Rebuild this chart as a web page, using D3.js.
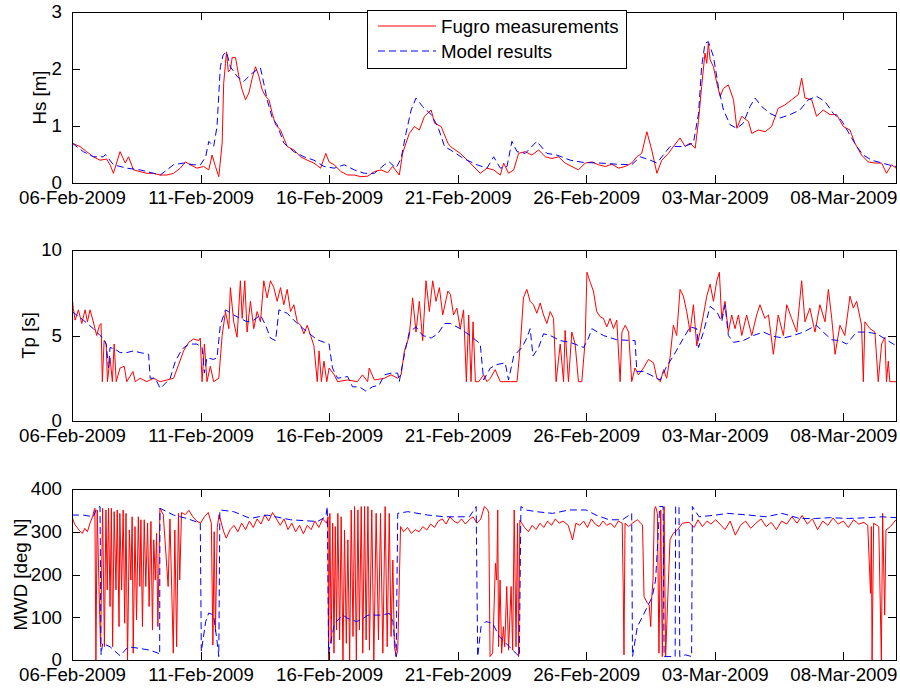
<!DOCTYPE html>
<html>
<head>
<meta charset="utf-8">
<script src="https://cdn.jsdelivr.net/npm/d3@7"></script>
<style>
  body { margin: 0; background: #fff; }
  svg text { font-family: "Liberation Sans", Arial, sans-serif; font-size: 18.7px; fill: #000; }
</style>
</head>
<body>
<svg width="900" height="691"></svg>
<script>
// time axis: day offsets from 06-Feb-2009 00:00
const startDate = '2009-02-06'
const endDay = 32.05
const xTickLabels = ['06-Feb-2009', '11-Feb-2009', '16-Feb-2009', '21-Feb-2009', '26-Feb-2009', '03-Mar-2009', '08-Mar-2009']
const seriesNames = ['Fugro measurements', 'Model results']

const hsTicks = [0, 1, 2, 3]
const tpTicks = [0, 5, 10]
const mwdTicks = [0, 100, 200, 300, 400]

// [day, Hs m]
const hsMeasured = [[0,0.70],[0.31,0.64],[0.57,0.55],[0.83,0.46],[1.09,0.40],[1.35,0.42],[1.5,0.30],[1.61,0.17],[1.87,0.55],[2.07,0.35],[2.2,0.46],[2.39,0.23],[2.65,0.20],[2.91,0.17],[3.17,0.17],[3.43,0.14],[3.69,0.14],[3.95,0.17],[4.21,0.26],[4.41,0.37],[4.6,0.32],[4.86,0.26],[5.12,0.29],[5.32,0.23],[5.45,0.49],[5.58,0.29],[5.71,0.11],[5.84,0.70],[5.9,1.75],[5.97,2.1],[6.01,2.3],[6.08,1.95],[6.16,1.99],[6.23,2.2],[6.36,2.2],[6.49,1.87],[6.62,1.63],[6.75,1.46],[6.88,1.58],[7.01,1.84],[7.14,2.04],[7.27,1.87],[7.4,1.63],[7.53,1.52],[7.66,1.46],[7.79,1.22],[7.92,1.02],[8.11,0.93],[8.37,0.64],[8.63,0.58],[8.89,0.46],[9.15,0.40],[9.41,0.35],[9.67,0.26],[9.87,0.52],[10.0,0.37],[10.2,0.32],[10.46,0.20],[10.72,0.14],[10.98,0.14],[11.24,0.11],[11.5,0.12],[11.76,0.20],[12.02,0.23],[12.28,0.18],[12.47,0.29],[12.73,0.14],[12.86,0.52],[12.99,0.70],[13.12,0.87],[13.32,0.99],[13.51,0.93],[13.71,1.17],[13.97,1.28],[14.1,1.05],[14.36,0.99],[14.62,0.70],[14.72,0.64],[15.1,0.52],[15.49,0.35],[15.88,0.17],[16.14,0.26],[16.4,0.23],[16.66,0.14],[16.79,0.35],[16.98,0.17],[17.18,0.23],[17.37,0.52],[17.63,0.55],[17.89,0.49],[18.15,0.58],[18.41,0.46],[18.67,0.43],[18.92,0.46],[19.18,0.35],[19.44,0.29],[19.7,0.23],[19.96,0.35],[20.22,0.37],[20.48,0.32],[20.74,0.29],[21.0,0.33],[21.26,0.26],[21.52,0.29],[21.77,0.35],[21.97,0.46],[22.16,0.52],[22.36,0.90],[22.55,0.58],[22.75,0.17],[22.94,0.40],[23.2,0.52],[23.39,0.64],[23.65,0.79],[23.85,0.64],[24.04,0.70],[24.24,0.61],[24.37,1.10],[24.49,1.69],[24.62,2.28],[24.69,2.1],[24.75,2.45],[24.82,2.16],[24.95,2.04],[25.08,1.75],[25.21,1.52],[25.34,1.66],[25.53,1.72],[25.73,1.46],[25.86,0.96],[26.05,1.17],[26.31,1.08],[26.44,0.87],[26.7,0.93],[26.96,0.90],[27.21,0.99],[27.47,1.31],[27.73,1.37],[27.99,1.46],[28.25,1.55],[28.38,1.84],[28.51,1.49],[28.77,1.46],[28.96,1.17],[29.22,1.28],[29.48,1.2],[29.74,1.2],[30.0,0.99],[30.26,0.93],[30.45,0.70],[30.71,0.49],[30.97,0.37],[31.23,0.35],[31.49,0.35],[31.68,0.17],[31.88,0.32],[32.05,0.26]]

const hsModel = [[0,0.70],[0.44,0.55],[0.83,0.46],[1.22,0.46],[1.3,0.50],[1.61,0.32],[2.13,0.26],[2.65,0.23],[3.17,0.17],[3.43,0.14],[3.69,0.23],[3.95,0.32],[4.34,0.35],[4.73,0.32],[5.0,0.32],[5.2,0.46],[5.32,0.73],[5.51,0.64],[5.64,0.99],[5.77,2.04],[5.88,2.25],[6.01,2.3],[6.16,2.04],[6.42,1.87],[6.68,1.78],[6.94,1.9],[7.2,1.99],[7.33,2.02],[7.46,1.75],[7.59,1.46],[7.79,1.14],[7.98,1.02],[8.24,0.70],[8.63,0.55],[9.02,0.46],[9.41,0.40],[9.8,0.29],[10.2,0.26],[10.59,0.32],[10.98,0.23],[11.37,0.17],[11.76,0.17],[12.15,0.32],[12.34,0.37],[12.6,0.26],[12.8,0.43],[12.99,0.87],[13.19,1.28],[13.38,1.49],[13.64,1.34],[13.97,1.2],[14.23,0.99],[14.49,0.64],[14.72,0.58],[15.23,0.43],[15.75,0.32],[16.14,0.26],[16.4,0.46],[16.66,0.26],[16.92,0.29],[17.11,0.73],[17.31,0.55],[17.63,0.52],[18.08,0.73],[18.47,0.52],[18.86,0.49],[19.38,0.40],[19.9,0.36],[20.54,0.35],[21.19,0.33],[21.77,0.32],[22.1,0.46],[22.49,0.40],[22.75,0.35],[23.26,0.64],[23.78,0.64],[24.17,0.70],[24.37,1.22],[24.49,2.04],[24.62,2.45],[24.75,2.48],[24.95,2.22],[25.14,1.69],[25.34,1.28],[25.6,1.02],[25.86,0.96],[26.11,1.05],[26.37,1.34],[26.57,1.49],[26.83,1.34],[27.15,1.22],[27.54,1.14],[27.93,1.2],[28.31,1.28],[28.64,1.46],[28.96,1.52],[29.29,1.43],[29.61,1.22],[29.93,1.1],[30.26,0.84],[30.52,0.64],[30.78,0.49],[31.1,0.40],[31.43,0.36],[31.75,0.32],[32.05,0.29]]

// [day, Tp s]
const tpMeasured = [[0,7.3],[0.05,6.6],[0.12,5.9],[0.25,6.5],[0.38,5.7],[0.51,6.5],[0.6,5.8],[0.7,6.5],[0.83,5.8],[0.96,5.0],[1.07,5.6],[1.13,5.7],[1.18,2.3],[1.25,4.7],[1.33,4.5],[1.38,2.3],[1.48,3.7],[1.57,2.3],[1.64,4.5],[1.72,2.3],[1.87,3.1],[2.03,3.2],[2.13,2.3],[2.37,2.9],[2.46,2.3],[2.65,2.5],[2.91,2.3],[3.17,2.5],[3.43,2.3],[3.69,2.4],[3.95,2.5],[4.15,3.3],[4.34,4.1],[4.54,4.6],[4.73,4.8],[4.93,4.7],[4.99,4.85],[5.06,2.3],[5.15,4.5],[5.25,2.3],[5.38,3.2],[5.51,2.3],[5.71,2.5],[5.84,5.0],[5.97,6.4],[6.1,5.4],[6.16,7.8],[6.29,5.8],[6.42,4.9],[6.55,8.2],[6.62,6.0],[6.72,8.2],[6.81,5.2],[6.94,7.0],[7.07,5.4],[7.2,6.4],[7.33,5.8],[7.46,8.2],[7.59,7.2],[7.72,8.2],[7.85,7.8],[7.98,7.0],[8.11,7.8],[8.24,6.8],[8.37,7.7],[8.5,6.4],[8.63,6.8],[8.76,5.8],[8.89,5.6],[9.02,5.1],[9.15,5.6],[9.28,5.0],[9.41,4.4],[9.54,2.3],[9.61,4.1],[9.7,2.3],[9.8,3.5],[9.91,2.3],[10.0,3.1],[10.2,2.7],[10.33,2.3],[10.72,2.4],[11.1,2.3],[11.3,2.7],[11.5,2.3],[11.56,3.1],[11.76,2.4],[12.15,2.5],[12.41,2.7],[12.67,2.5],[12.8,2.7],[12.93,4.1],[13.12,5.0],[13.25,7.2],[13.38,5.2],[13.51,7.0],[13.64,4.7],[13.77,8.2],[13.9,6.4],[14.03,8.2],[14.16,7.0],[14.29,7.8],[14.42,6.2],[14.62,7.6],[14.72,7.4],[14.84,6.2],[14.97,6.6],[15.1,5.4],[15.23,6.5],[15.34,2.3],[15.43,6.2],[15.52,2.3],[15.6,5.8],[15.69,2.3],[15.82,2.3],[16.01,2.7],[16.14,2.3],[16.27,2.5],[16.46,3.0],[16.66,2.3],[17.05,2.3],[17.31,2.3],[17.44,4.5],[17.56,7.2],[17.69,7.7],[17.82,7.0],[17.95,6.8],[18.08,6.3],[18.21,6.9],[18.34,6.2],[18.47,5.7],[18.6,6.4],[18.73,6.0],[18.83,2.3],[18.99,4.5],[19.12,2.3],[19.18,5.3],[19.31,2.3],[19.44,5.2],[19.57,4.5],[19.7,2.3],[19.83,2.3],[19.96,4.7],[20.03,8.7],[20.16,8.1],[20.28,7.6],[20.41,6.4],[20.54,6.1],[20.67,6.0],[20.8,5.5],[20.93,6.0],[21.06,5.4],[21.19,5.9],[21.32,2.3],[21.39,5.2],[21.52,5.6],[21.65,5.2],[21.77,2.3],[21.9,3.1],[22.03,2.7],[22.23,3.1],[22.42,3.6],[22.62,3.4],[22.75,2.5],[22.88,2.3],[23.01,3.0],[23.13,2.5],[23.26,3.7],[23.39,5.6],[23.52,5.0],[23.65,7.7],[23.78,7.3],[23.91,6.4],[24.04,5.2],[24.17,6.8],[24.3,4.4],[24.43,5.2],[24.56,6.2],[24.69,7.3],[24.82,8.0],[24.95,7.0],[25.08,8.2],[25.18,8.7],[25.27,6.0],[25.4,7.0],[25.53,5.2],[25.66,6.2],[25.79,5.4],[25.92,6.2],[26.05,5.0],[26.24,6.2],[26.44,5.0],[26.63,6.2],[26.76,6.8],[26.95,6.0],[27.09,6.2],[27.28,3.9],[27.47,6.2],[27.67,5.0],[27.8,6.8],[27.99,6.0],[28.19,5.2],[28.38,8.2],[28.51,5.8],[28.7,6.6],[28.9,5.2],[29.09,6.8],[29.29,5.8],[29.42,7.7],[29.55,6.0],[29.68,3.9],[29.87,5.6],[30.06,5.0],[30.26,7.3],[30.39,6.6],[30.52,7.0],[30.71,5.6],[30.78,2.3],[30.84,5.8],[31.04,5.4],[31.23,5.2],[31.36,2.3],[31.49,4.5],[31.62,4.9],[31.68,2.3],[31.75,3.5],[31.81,2.3],[32.05,2.3]]

const tpModel = [[0,6.4],[0.18,6.2],[0.44,5.9],[0.83,5.4],[1.09,5.0],[1.22,4.85],[1.33,4.5],[1.42,3.1],[1.48,4.3],[1.68,4.2],[1.87,4.0],[2.13,4.0],[2.39,4.1],[2.65,4.0],[2.98,3.9],[3.04,2.5],[3.24,2.5],[3.43,1.9],[3.63,2.2],[3.82,2.5],[4.02,3.5],[4.28,4.2],[4.54,4.5],[4.86,4.5],[5.06,4.3],[5.15,2.8],[5.25,3.7],[5.51,3.6],[5.64,3.7],[5.77,5.6],[5.97,6.5],[6.29,6.2],[6.55,6.0],[6.81,5.8],[7.07,5.9],[7.33,6.2],[7.53,5.6],[7.72,4.85],[7.92,4.7],[8.05,6.5],[8.37,6.3],[8.76,5.7],[9.15,5.2],[9.54,4.75],[10.0,4.5],[10.13,3.1],[10.33,2.5],[10.72,2.6],[10.91,2.0],[11.17,2.0],[11.43,1.75],[11.69,2.0],[11.95,2.1],[12.15,2.7],[12.41,2.8],[12.67,2.8],[12.73,2.3],[12.93,3.9],[13.12,5.2],[13.38,5.5],[13.64,5.0],[13.97,4.85],[14.23,5.1],[14.49,5.7],[14.72,5.7],[15.1,5.4],[15.49,5.0],[15.88,4.5],[16.01,2.4],[16.27,3.1],[16.53,3.3],[16.85,3.4],[16.98,2.4],[17.18,3.8],[17.5,4.3],[17.69,4.85],[17.82,5.4],[17.93,3.8],[18.15,4.3],[18.34,5.1],[18.6,5.0],[18.99,4.7],[19.38,4.6],[19.9,4.3],[20.09,4.85],[20.22,5.4],[20.67,5.0],[21.19,4.75],[21.9,4.7],[21.97,2.9],[22.23,2.9],[22.49,2.7],[22.88,2.4],[23.13,3.2],[23.39,3.8],[23.65,4.5],[24.04,5.5],[24.3,5.4],[24.37,4.3],[24.56,5.2],[24.82,6.7],[25.08,6.4],[25.27,5.8],[25.4,6.8],[25.53,5.0],[25.73,4.6],[26.11,4.7],[26.5,5.0],[26.89,5.2],[27.28,4.95],[27.67,4.85],[28.06,5.0],[28.45,5.2],[28.7,5.4],[28.96,5.6],[29.22,5.2],[29.55,4.75],[29.87,4.7],[30.13,4.5],[30.32,4.85],[30.52,5.2],[30.91,5.2],[31.3,5.1],[31.68,4.75],[32.05,4.4]]

// [day, MWD deg N]
const mwdMeasured = [[0,335],[0.1,318],[0.2,310],[0.3,302],[0.4,296],[0.5,308],[0.6,300],[0.7,320],[0.8,335],[0.86,350],[0.89,355],[0.93,0],[0.98,351],[1.05,172],[1.11,31],[1.19,355],[1.26,31],[1.32,351],[1.37,164],[1.42,355],[1.48,125],[1.53,355],[1.58,31],[1.64,347],[1.71,164],[1.76,351],[1.83,78],[1.86,343],[1.93,164],[1.99,351],[2.05,86],[2.1,343],[2.16,0],[2.23,304],[2.29,187],[2.34,335],[2.38,16],[2.45,312],[2.51,94],[2.58,335],[2.64,172],[2.68,328],[2.74,78],[2.81,328],[2.87,172],[2.94,320],[3.0,125],[3.07,324],[3.13,70],[3.18,281],[3.24,187],[3.29,296],[3.34,78],[3.42,355],[3.55,340],[3.74,172],[3.81,330],[3.94,16],[4.0,304],[4.07,31],[4.14,343],[4.19,187],[4.26,345],[4.4,340],[4.55,350],[4.7,335],[4.85,325],[5.0,320],[5.15,335],[5.3,345],[5.42,320],[5.48,35],[5.53,300],[5.58,66],[5.65,310],[5.72,340],[5.9,300],[6.0,285],[6.15,305],[6.3,315],[6.45,300],[6.6,320],[6.75,305],[6.9,325],[7.05,310],[7.2,330],[7.35,318],[7.5,340],[7.65,325],[7.8,345],[7.95,330],[8.1,315],[8.25,330],[8.4,305],[8.55,320],[8.7,300],[8.85,315],[9.0,295],[9.15,315],[9.3,305],[9.45,325],[9.6,310],[9.75,330],[9.9,320],[9.96,335],[9.98,0],[10.03,343],[10.08,39],[10.14,320],[10.19,16],[10.24,312],[10.29,70],[10.34,343],[10.41,47],[10.47,335],[10.54,0],[10.6,304],[10.67,39],[10.73,281],[10.8,0],[10.86,351],[10.93,55],[10.99,359],[11.06,0],[11.12,351],[11.18,70],[11.25,359],[11.31,16],[11.38,359],[11.44,47],[11.51,359],[11.57,23],[11.66,351],[11.74,0],[11.83,343],[11.92,47],[12.0,343],[12.09,16],[12.18,359],[12.26,31],[12.34,343],[12.41,55],[12.48,234],[12.54,31],[12.61,8],[12.67,23],[12.78,312],[12.9,300],[13.05,310],[13.2,296],[13.35,305],[13.5,300],[13.65,312],[13.8,304],[13.95,318],[14.1,310],[14.25,325],[14.4,330],[14.55,318],[14.7,335],[14.85,325],[15.0,320],[15.15,330],[15.3,318],[15.45,328],[15.6,335],[15.75,320],[15.9,330],[16.04,359],[16.17,351],[16.21,343],[16.26,8],[16.36,16],[16.47,226],[16.52,187],[16.56,351],[16.59,31],[16.65,187],[16.71,16],[16.78,78],[16.83,31],[16.91,172],[16.98,23],[17.08,172],[17.14,23],[17.2,351],[17.27,31],[17.33,320],[17.37,8],[17.42,327],[17.6,310],[17.75,300],[17.9,315],[18.05,305],[18.2,320],[18.35,310],[18.5,325],[18.65,315],[18.8,330],[18.95,320],[19.1,325],[19.3,315],[19.47,281],[19.6,320],[19.75,315],[19.9,325],[20.05,310],[20.2,330],[20.35,318],[20.5,312],[20.65,325],[20.8,315],[20.95,320],[21.1,310],[21.25,325],[21.4,320],[21.44,168],[21.47,12],[21.51,320],[21.65,312],[21.8,320],[21.99,328],[22.19,316],[22.25,148],[22.38,133],[22.45,129],[22.51,78],[22.55,148],[22.6,187],[22.65,351],[22.7,359],[22.77,343],[22.83,16],[22.9,351],[22.96,8],[23.03,359],[23.09,8],[23.2,187],[23.26,281],[23.38,296],[23.55,304],[23.74,320],[24.0,322],[24.2,310],[24.35,328],[24.52,312],[24.7,325],[24.85,318],[25.04,328],[25.2,318],[25.4,305],[25.6,325],[25.8,292],[26.0,315],[26.2,325],[26.4,308],[26.6,320],[26.8,330],[27.0,312],[27.2,322],[27.4,305],[27.6,325],[27.8,318],[28.0,335],[28.2,320],[28.4,338],[28.6,318],[28.8,330],[29.0,305],[29.2,325],[29.4,315],[29.6,332],[29.8,318],[30.0,325],[30.2,310],[30.4,328],[30.6,318],[30.8,322],[30.95,315],[31.06,156],[31.09,312],[31.12,0],[31.18,320],[31.38,312],[31.48,0],[31.53,343],[31.61,105],[31.66,304],[31.83,312],[32.05,328]]

const mwdModel = [[0,339],[0.44,339],[0.83,335],[0.96,355],[1.09,359],[1.13,12],[1.19,39],[1.48,31],[1.87,10],[2.19,31],[2.64,27],[3.03,23],[3.35,16],[3.41,12],[3.42,355],[3.95,339],[4.47,331],[4.99,320],[5.03,20],[5.2,90],[5.32,110],[5.51,105],[5.65,40],[5.71,8],[5.75,351],[6.29,347],[6.94,331],[7.59,339],[8.5,328],[9.55,324],[9.87,335],[9.93,359],[9.98,16],[10.21,86],[10.54,105],[10.73,97],[11.06,90],[11.25,94],[11.51,105],[12.02,105],[12.35,109],[12.48,90],[12.61,8],[12.67,343],[13.06,347],[13.84,339],[14.49,335],[15.46,335],[15.72,359],[15.78,8],[15.91,78],[16.1,90],[16.36,86],[16.62,55],[16.88,39],[17.14,23],[17.4,8],[17.46,359],[17.65,351],[18.05,347],[18.69,343],[19.34,351],[19.99,351],[20.38,339],[20.89,328],[21.41,328],[21.77,343],[21.8,8],[21.99,78],[22.32,117],[22.57,148],[22.7,187],[22.86,359],[22.99,359],[23.03,8],[23.46,8],[23.48,359],[23.61,359],[23.64,8],[23.87,12],[24.1,8],[24.13,359],[24.39,335],[25.04,339],[25.5,343],[26.33,339],[27.0,335],[27.62,343],[28.3,331],[28.92,331],[29.5,333],[30.21,331],[31.0,333],[31.5,335],[32.05,333]]

const svg = d3.select('svg')
const start = d3.utcParse('%Y-%m-%d')(startDate)
const toDate = day => new Date(start.getTime() + day * 864e5)
const parseTick = d3.utcParse('%d-%b-%Y')
const fmtTick = d3.utcFormat('%d-%b-%Y')

const left = 72
const right = 896
const plotH = 171
const tick = 8

const x = d3.scaleUtc().domain([start, toDate(endDay)]).range([left, right])

const panels = [
  {key: 'hs', label: 'Hs [m]', domain: [0, 3], ticks: hsTicks, meas: hsMeasured, model: hsModel, top: 12, labelX: 46},
  {key: 'tp', label: 'Tp [s]', domain: [0, 10], ticks: tpTicks, meas: tpMeasured, model: tpModel, top: 250, labelX: 34.5},
  {key: 'mwd', label: 'MWD [deg N]', domain: [0, 400], ticks: mwdTicks, meas: mwdMeasured, model: mwdModel, top: 489, labelX: 26.5}
]

function styleAxis (sel) {
  sel.select('.domain').remove()
  sel.selectAll('line').attr('stroke', '#000').attr('shape-rendering', 'crispEdges')
  sel.attr('font-size', null).attr('font-family', null)
}

panels.forEach(p => {
  const y = d3.scaleLinear().domain(p.domain).range([p.top + plotH, p.top])
  const g = svg.append('g')

  g.append('clipPath').attr('id', 'clip-' + p.key)
    .append('rect').attr('x', left).attr('y', p.top).attr('width', right - left).attr('height', plotH)

  const line = d3.line()
    .x(d => x(toDate(d[0])))
    .y(d => y(d[1]))

  const lines = g.append('g').attr('clip-path', `url(#clip-${p.key})`)
  lines.append('path')
    .datum(p.meas)
    .attr('fill', 'none')
    .attr('stroke', '#ff0000')
    .attr('stroke-width', 1)
    .attr('stroke-linejoin', 'round')
    .attr('d', line)
  lines.append('path')
    .datum(p.model)
    .attr('fill', 'none')
    .attr('stroke', '#0000ff')
    .attr('stroke-width', 1)
    .attr('stroke-dasharray', '7,4')
    .attr('d', line)

  const tickDates = xTickLabels.map(parseTick)

  g.append('g')
    .attr('transform', `translate(0,${p.top + plotH})`)
    .call(d3.axisBottom(x).tickValues(tickDates).tickFormat(fmtTick)
      .tickSizeInner(-tick).tickSizeOuter(0).tickPadding(8))
    .call(styleAxis)
  g.append('g')
    .attr('transform', `translate(0,${p.top})`)
    .call(d3.axisTop(x).tickValues(tickDates).tickFormat('')
      .tickSizeInner(-tick).tickSizeOuter(0))
    .call(styleAxis)
  g.append('g')
    .attr('transform', `translate(${left},0)`)
    .call(d3.axisLeft(y).tickValues(p.ticks).tickFormat(d3.format('d'))
      .tickSizeInner(-tick).tickSizeOuter(0).tickPadding(10))
    .call(styleAxis)
  g.append('g')
    .attr('transform', `translate(${right},0)`)
    .call(d3.axisRight(y).tickValues(p.ticks).tickFormat('')
      .tickSizeInner(-tick).tickSizeOuter(0))
    .call(styleAxis)

  g.append('rect')
    .attr('x', left + 0.5).attr('y', p.top + 0.5)
    .attr('width', right - left).attr('height', plotH)
    .attr('fill', 'none').attr('stroke', '#000')

  g.append('text')
    .attr('transform', `translate(${p.labelX},${p.top + plotH / 2}) rotate(-90)`)
    .attr('text-anchor', 'middle')
    .text(p.label)
})

// legend in the top panel
const legend = svg.append('g')
legend.append('rect')
  .attr('x', 367.5).attr('y', 10.5).attr('width', 259).attr('height', 58)
  .attr('fill', '#fff').attr('stroke', '#000')
const legendStyles = [
  {color: '#ff0000', dash: null},
  {color: '#0000ff', dash: '7,4'}
]
seriesNames.forEach((name, i) => {
  const cy = 26 + i * 25
  legend.append('line')
    .attr('x1', 378).attr('x2', 436).attr('y1', cy).attr('y2', cy)
    .attr('stroke', legendStyles[i].color)
    .attr('stroke-dasharray', legendStyles[i].dash)
  legend.append('text')
    .attr('x', 441).attr('y', cy).attr('dy', '0.35em')
    .text(name)
})
</script>
</body>
</html>
